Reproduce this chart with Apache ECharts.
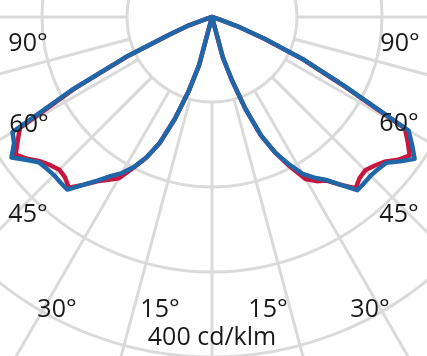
<!DOCTYPE html>
<html>
<head>
<meta charset="utf-8">
<script src="https://cdn.jsdelivr.net/npm/echarts@6/dist/echarts.min.js"></script>
<style>
  html, body { margin: 0; padding: 0; background: #fff; }
  #chart { width: 427px; height: 356px; }
</style>
</head>
<body>
<div id="chart"></div>
<script>
// gamma angles (deg from nadir) and intensities in cd/klm
var gamma = [0, 10, 12.5, 15, 17.5, 20, 22.5, 25, 27.5, 30, 32.5, 35, 37.5, 40, 42.5, 45, 47.5, 50, 52.5, 55, 57.5, 60, 62.5, 65, 67.5, 70, 72.5, 75, 90];

// C0-C180 plane (red)
var redLeft  = [0, 0, 0, 59, 92, 127, 160, 182, 200, 219, 227, 236, 249, 262, 256, 254, 258, 264, 274, 282, 271, 261, 182, 111, 53, 30, 7, 0, 0];
var redRight = [0, 0, 0, 49, 78, 115, 151, 176, 198, 220, 229, 235, 249, 263, 257, 255, 259, 265, 276, 284, 273, 262, 172, 118, 66, 31, 9, 0, 0];
// C90-C270 plane (blue)
var blueLeft  = [0, 0, 0, 59, 92, 127, 160, 182, 199, 212, 222, 235, 249, 265, 264, 263, 264, 266, 276, 288, 276, 271, 186, 113, 54, 31, 7, 0, 0];
var blueRight = [0, 0, 0, 49, 78, 115, 151, 176, 195, 213, 224, 234, 249, 266, 265, 264, 265, 267, 279, 291, 279, 267, 176, 120, 67, 32, 9, 0, 0];

var angleLabels = ['90°', '60°', '45°', '30°', '15°', '15°', '30°', '45°', '60°', '90°'];
var unitLabel = '400 cd/klm';

// label anchor points in pixels
var labelPos = [[28, 44], [29, 125], [28, 215], [57, 310], [160, 310], [268, 310], [370, 310], [399, 215], [399, 124], [400, 44]];
var unitPos = [212, 338];

var chart = echarts.init(document.getElementById('chart'));

function buildCurve(left, right) {
    var pts = [];
    for (var i = right.length - 1; i >= 0; i--) {
        pts.push([right[i], -gamma[i]]);
    }
    for (var j = 0; j < left.length; j++) {
        pts.push([left[j], gamma[j]]);
    }
    return pts;
}

var gridColor = '#dadada';
var font = '25px "Open Sans", sans-serif';

var texts = [];
for (var k = 0; k < angleLabels.length; k++) {
    texts.push({
        type: 'text', x: labelPos[k][0], y: labelPos[k][1], z: 10,
        style: { text: angleLabels[k], font: font, fill: '#1a1a1a', align: 'center', verticalAlign: 'middle' }
    });
}
texts.push({
    type: 'text', x: unitPos[0], y: unitPos[1], z: 10,
    style: { text: unitLabel, font: font, fill: '#1a1a1a', align: 'center', verticalAlign: 'middle' }
});

var option = {
    animation: false,
    backgroundColor: '#fff',
    polar: [
        { center: [212, 17], radius: [85, 425] },
        { center: [212, 17], radius: [0, 425] }
    ],
    angleAxis: [
        {
            polarIndex: 0, type: 'value', min: -180, max: 180, interval: 15,
            startAngle: 90, clockwise: true,
            axisLine: { show: false }, axisTick: { show: false }, axisLabel: { show: false },
            splitLine: { show: true, lineStyle: { color: gridColor, width: 3 } }
        },
        {
            polarIndex: 1, type: 'value', min: -180, max: 180, interval: 15,
            startAngle: 90, clockwise: true,
            axisLine: { show: false }, axisTick: { show: false }, axisLabel: { show: false },
            splitLine: { show: false }
        }
    ],
    radiusAxis: [
        { polarIndex: 0, min: 0, max: 1, show: false },
        {
            polarIndex: 1, min: 0, max: 500, interval: 100,
            axisLine: { show: false }, axisTick: { show: false }, axisLabel: { show: false },
            splitLine: { show: true, lineStyle: { color: gridColor, width: 3 } }
        }
    ],
    graphic: texts,
    series: [
        {
            type: 'line', coordinateSystem: 'polar', polarIndex: 1,
            symbol: 'none', data: buildCurve(redLeft, redRight),
            lineStyle: { color: '#c8173f', width: 4.5, join: 'round' }, z: 3
        },
        {
            type: 'line', coordinateSystem: 'polar', polarIndex: 1,
            symbol: 'none', data: buildCurve(blueLeft, blueRight),
            lineStyle: { color: '#1f67a8', width: 4.5, join: 'round' }, z: 4
        }
    ]
};
chart.setOption(option);
</script>
</body>
</html>
